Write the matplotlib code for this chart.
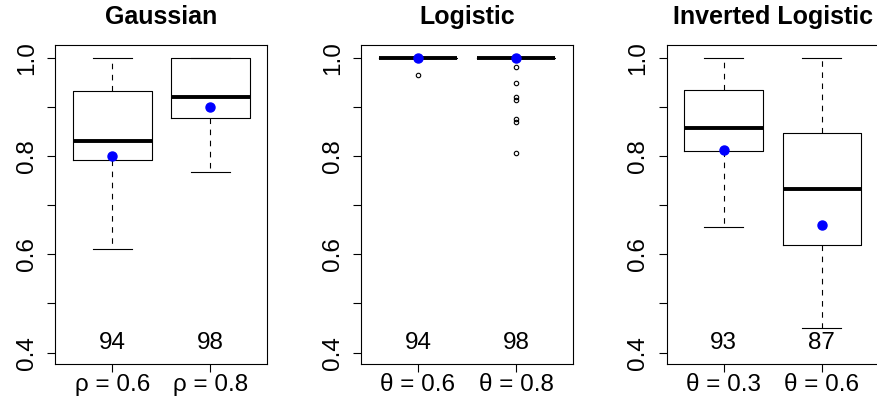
import numpy as np
import matplotlib.pyplot as plt

plt.rcParams['font.family'] = ['Liberation Sans', 'DejaVu Sans']

# ------------------------------
# Data
# ------------------------------

titles = ["Gaussian", "Logistic", "Inverted Logistic"]
tick_labels = [["ρ = 0.6", "ρ = 0.8"],
               ["θ = 0.6", "θ = 0.8"],
               ["θ = 0.3", "θ = 0.6"]]
counts = [[94, 98], [94, 98], [93, 87]]

whislo = [[0.611, 0.767], [1.0, 1.0], [0.656, 0.451]]
q1 = [[0.792, 0.878], [1.0, 1.0], [0.810, 0.619]]
med = [[0.830, 0.920], [1.0, 1.0], [0.857, 0.733]]
q3 = [[0.932, 1.0], [1.0, 1.0], [0.935, 0.846]]
whishi = [[1.0, 1.0], [1.0, 1.0], [1.0, 1.0]]
means = [[0.800, 0.900], [1.0, 1.0], [0.812, 0.660]]
fliers = [[[], []],
          [[0.965], [0.981, 0.949, 0.920, 0.914, 0.876, 0.870, 0.807]],
          [[], []]]

# ------------------------------
# Plot
# ------------------------------

fig = plt.figure(figsize=(8.78, 4.07), dpi=100)
lefts = [0.063, 0.4112, 0.7593]
w, b, h = 0.2415, 0.105, 0.784

for i in range(3):
    ax = fig.add_axes([lefts[i], b, w, h])
    stats = []
    for j in range(2):
        stats.append(dict(med=med[i][j], q1=q1[i][j], q3=q3[i][j],
                          whislo=whislo[i][j], whishi=whishi[i][j],
                          mean=means[i][j], fliers=np.array(fliers[i][j])))
    ax.bxp(stats, positions=[1, 2], widths=0.8, capwidths=0.4,
           showmeans=True, patch_artist=False,
           boxprops=dict(color="black", lw=0.8),
           whiskerprops=dict(color="black", lw=0.8, linestyle=(0, (5, 5))),
           capprops=dict(color="black", lw=0.8),
           medianprops=dict(color="black", lw=2.8, solid_capstyle="butt"),
           meanprops=dict(marker="o", markerfacecolor="blue",
                          markeredgecolor="blue", markersize=6.5),
           flierprops=dict(marker="o", markerfacecolor="none",
                           markeredgecolor="black", markersize=3.2,
                           markeredgewidth=0.8))
    for j in range(2):
        ax.text(j + 1, 0.42, str(counts[i][j]), ha="center", va="center",
                fontsize=17.5)
    ax.set_xlim(0.42, 2.58)
    ax.set_ylim(0.3764, 1.0254)
    ax.set_yticks([0.4, 0.5, 0.6, 0.7, 0.8, 0.9, 1.0])
    ax.set_yticklabels(["0.4", "", "0.6", "", "0.8", "", "1.0"],
                       rotation=90, va="center", fontsize=17.5)
    ax.set_xticks([1, 2])
    ax.set_xticklabels(tick_labels[i], fontsize=17.5)
    ax.tick_params(axis="y", length=5.5, width=0.8, pad=7)
    ax.tick_params(axis="x", length=5.5, width=0.8, pad=1.5)
    for s in ax.spines.values():
        s.set_linewidth(0.8)
    ax.set_title(titles[i], fontsize=18, fontweight="bold", pad=15.5)

plt.savefig("out.png", dpi=100)
